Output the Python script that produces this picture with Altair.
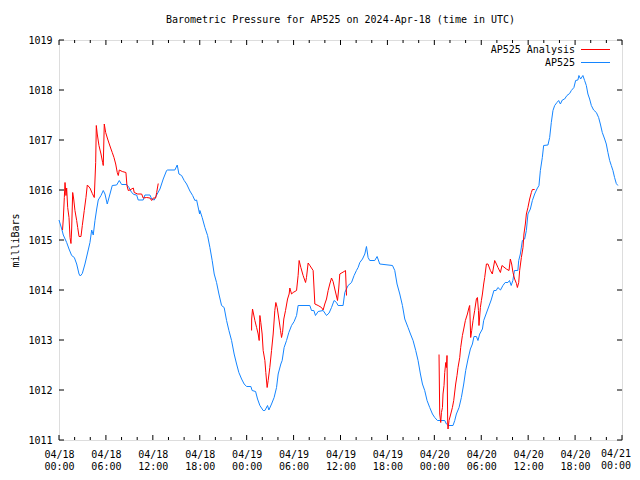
import altair as alt
import pandas as pd

# ---------------- data (hours after 2024-04-18 00:00 UTC, pressure in mbar) ----------------
obs_hours = [0.0, 0.35, 0.55, 0.98, 1.28, 1.62, 1.96, 2.26, 2.56, 2.72, 2.98, 3.32, 3.62, 3.96, 4.18,
             4.38, 4.60, 4.82, 5.02, 5.37, 5.66, 5.88, 6.17, 6.52, 6.81, 7.37, 7.71, 8.01, 8.65, 8.95,
             9.29, 9.58, 9.93, 10.13, 10.77, 10.99, 11.63, 11.85, 12.18, 12.49, 12.91, 13.33, 13.76,
             13.89, 14.82, 15.12, 15.34, 15.68, 16.01, 16.32, 16.74, 17.09, 17.38, 17.60, 17.98,
             18.02, 18.31, 18.66, 19.00, 19.30, 19.59, 19.85, 20.15, 20.45, 20.79, 21.12, 21.43,
             21.73, 22.07, 22.40, 22.71, 23.00, 23.35, 23.68, 23.99, 24.54, 24.70, 25.14, 25.39,
             25.69, 26.11, 26.33, 26.67, 26.84, 27.18, 27.51, 27.82, 28.03, 28.37, 28.54, 28.79,
             29.10, 29.39, 29.74, 30.07, 30.38, 30.58, 32.08, 32.29, 32.59, 32.80, 33.14, 33.78,
             34.21, 34.54, 34.85, 35.18, 35.49, 35.69, 36.33, 36.55, 36.97, 37.41, 37.74, 38.04,
             38.25, 38.47, 38.81, 39.11, 39.32, 39.53, 39.74, 40.38, 40.68, 41.02, 42.65, 42.94,
             43.23, 43.58, 43.92, 44.22, 44.64, 44.95, 45.28, 45.62, 45.92, 46.22, 46.48, 46.77,
             47.07, 47.41, 47.76, 48.05, 48.40, 49.33, 49.55, 49.75, 50.39, 50.61, 50.82, 51.16,
             51.46, 51.76, 52.01, 52.31, 52.61, 52.87, 53.07, 53.38, 53.58, 53.80, 54.15, 54.31,
             55.27, 55.62, 55.91, 56.13, 56.46, 56.77, 57.06, 57.41, 57.61, 57.83, 58.04, 58.25,
             58.68, 58.79, 59.00, 59.26, 59.55, 59.77, 59.97, 60.28, 60.54, 60.83, 61.12, 61.38,
             61.56, 61.81, 61.98, 62.53, 62.75, 62.96, 63.17, 63.39, 63.68, 63.90, 64.12, 64.37,
             64.66, 64.96, 65.30, 65.52, 65.85, 66.07, 66.36, 66.49, 66.71, 67.00, 67.22, 67.44,
             67.64, 67.86, 68.08, 68.37, 68.72, 69.01, 69.23, 69.48, 69.78, 69.99, 70.20, 70.42,
             70.63, 70.84, 71.05, 71.27, 71.47]
obs_mb = [1015.4, 1015.22, 1015.1, 1014.95, 1014.82, 1014.69, 1014.65, 1014.52, 1014.32, 1014.28,
          1014.33, 1014.52, 1014.72, 1014.95, 1015.2, 1015.1, 1015.39, 1015.62, 1015.8, 1015.89,
          1015.99, 1015.92, 1015.72, 1015.92, 1016.09, 1016.1, 1016.19, 1016.11, 1016.11, 1016.05,
          1015.95, 1015.91, 1015.9, 1015.8, 1015.8, 1015.9, 1015.9, 1015.82, 1015.8, 1015.9,
          1016.02, 1016.22, 1016.39, 1016.4, 1016.4, 1016.5, 1016.32, 1016.29, 1016.19, 1016.12,
          1015.98, 1015.89, 1015.79, 1015.8, 1015.52, 1015.59, 1015.45, 1015.25, 1015.09, 1014.85,
          1014.59, 1014.32, 1014.15, 1013.92, 1013.69, 1013.65, 1013.39, 1013.19, 1012.99, 1012.72,
          1012.52, 1012.35, 1012.22, 1012.12, 1012.07, 1012.07, 1011.99, 1011.97, 1011.82, 1011.69,
          1011.59, 1011.59, 1011.69, 1011.6, 1011.72, 1011.85, 1012.05, 1012.32, 1012.52, 1012.59,
          1012.85, 1012.99, 1013.15, 1013.29, 1013.37, 1013.49, 1013.69, 1013.69, 1013.59, 1013.59,
          1013.49, 1013.57, 1013.59, 1013.49, 1013.54, 1013.65, 1013.79, 1013.75, 1013.69, 1013.69,
          1013.95, 1014.09, 1014.15, 1014.29, 1014.39, 1014.45, 1014.55, 1014.62, 1014.72, 1014.87,
          1014.65, 1014.59, 1014.59, 1014.67, 1014.52, 1014.49, 1014.39, 1014.12, 1013.92, 1013.69,
          1013.42, 1013.25, 1013.12, 1012.99, 1012.79, 1012.59, 1012.32, 1012.12, 1011.99, 1011.79,
          1011.65, 1011.52, 1011.45, 1011.39, 1011.39, 1011.32, 1011.29, 1011.29, 1011.39, 1011.52,
          1011.65, 1011.85, 1012.12, 1012.39, 1012.62, 1012.82, 1012.92, 1013.07, 1013.07, 1012.99,
          1013.12, 1013.22, 1013.39, 1013.8, 1013.99, 1013.99, 1014.05, 1014.0, 1014.09, 1014.15,
          1014.15, 1014.19, 1014.09, 1014.19, 1014.39, 1014.39, 1014.59, 1014.72, 1014.99, 1015.02,
          1015.19, 1015.52, 1015.62, 1015.79, 1015.92, 1016.02, 1016.09, 1016.39, 1016.65, 1016.89,
          1016.9, 1017.05, 1017.35, 1017.59, 1017.69, 1017.75, 1017.79, 1017.72, 1017.8, 1017.82,
          1017.89, 1017.93, 1017.99, 1018.05, 1018.19, 1018.2, 1018.29, 1018.22, 1018.29, 1018.19,
          1018.09, 1017.92, 1017.82, 1017.69, 1017.6, 1017.55, 1017.45, 1017.32, 1017.15, 1017.02,
          1016.92, 1016.75, 1016.59, 1016.49, 1016.39, 1016.25, 1016.13, 1016.09]

ana1_hours = [0.45, 0.55, 0.68, 0.77, 0.89, 0.98, 1.11, 1.28, 1.41, 1.53, 1.62, 1.75, 1.88, 2.04,
              2.26, 2.39, 2.56, 2.81, 2.98, 3.23, 3.45, 3.62, 3.96, 4.26, 4.51, 4.69, 4.77, 4.89,
              5.11, 5.37, 5.58, 5.66, 5.79, 5.97, 6.22, 6.43, 6.65, 6.81, 7.03, 7.25, 7.45, 7.58,
              7.71, 8.09, 8.56, 8.69, 8.86, 9.07, 9.50, 9.62, 10.06, 10.57, 10.77, 11.21, 11.63,
              11.85, 12.05, 12.36, 12.49, 12.69]
ana1_mb = [1015.2, 1015.42, 1015.85, 1016.15, 1015.89, 1016.04, 1015.65, 1015.45, 1015.05, 1014.93,
           1015.22, 1015.95, 1015.82, 1015.59, 1015.39, 1015.25, 1015.07, 1015.07, 1015.29, 1015.59,
           1015.85, 1016.1, 1016.04, 1015.93, 1015.85, 1016.55, 1017.29, 1017.12, 1016.89, 1016.72,
           1016.55, 1016.49, 1017.32, 1017.15, 1017.02, 1016.92, 1016.82, 1016.75, 1016.65, 1016.52,
           1016.35, 1016.29, 1016.4, 1016.37, 1016.35, 1016.09, 1015.99, 1016.0, 1016.04, 1015.95,
           1015.92, 1015.92, 1015.84, 1015.85, 1015.84, 1015.79, 1015.84, 1015.84, 1015.95, 1016.13]

ana2_hours = [24.63, 24.64, 24.75, 24.88, 25.05, 25.27, 25.47, 25.60, 25.69, 25.81, 25.98, 26.11,
              26.33, 26.45, 26.62, 26.75, 26.96, 27.18, 27.39, 27.60, 27.73, 27.90, 28.12, 28.33,
              28.46, 28.59, 28.75, 28.97, 29.23, 29.43, 29.52, 29.74, 29.94, 30.38, 30.58, 30.71,
              30.93, 31.22, 31.53, 31.65, 31.86, 32.08, 32.50, 32.72, 33.14, 33.57, 33.78, 33.99,
              34.21, 34.42, 34.63, 34.85, 35.05, 35.27, 35.62, 35.78, 35.91, 36.46, 36.64, 36.77]
ana2_mb = [1013.19, 1013.42, 1013.62, 1013.52, 1013.39, 1013.25, 1013.12, 1012.99, 1013.49, 1013.35,
           1013.12, 1012.79, 1012.59, 1012.35, 1012.05, 1012.19, 1012.45, 1012.79, 1013.12, 1013.59,
           1013.75, 1013.65, 1013.42, 1013.19, 1013.05, 1013.15, 1013.42, 1013.59, 1013.82, 1013.92,
           1014.04, 1013.92, 1013.95, 1013.99, 1014.29, 1014.59, 1014.45, 1014.29, 1014.15, 1014.25,
           1014.54, 1014.49, 1014.39, 1013.72, 1013.69, 1013.65, 1013.6, 1013.72, 1013.82, 1013.99,
           1014.12, 1014.24, 1014.17, 1014.02, 1013.79, 1014.04, 1014.32, 1014.37, 1014.39, 1013.89]

ana3_hours = [48.60, 48.69, 48.82, 48.91, 49.04, 49.11, 49.24, 49.33, 49.46, 49.55, 49.62, 49.71,
              49.75, 49.88, 50.10, 50.31, 50.48, 50.73, 50.90, 51.03, 51.25, 51.37, 51.59, 51.76,
              51.97, 52.23, 52.43, 52.52, 52.65, 52.78, 52.95, 53.16, 53.38, 53.51, 53.64, 53.71,
              53.89, 54.02, 54.15, 54.31, 54.44, 54.66, 54.86, 55.17, 55.42, 55.72, 55.94, 56.14,
              56.45, 56.65, 57.21, 57.55, 57.72, 57.89, 58.06, 58.27, 58.50, 58.62, 58.79, 58.91,
              59.13, 59.34, 59.46, 59.64, 59.77, 59.97, 60.19, 60.41, 60.54, 60.83]
ana3_mb = [1012.71, 1011.52, 1011.35, 1011.55, 1011.65, 1011.92, 1012.09, 1012.35, 1012.55, 1012.45,
           1012.69, 1011.32, 1011.22, 1011.39, 1011.52, 1011.65, 1011.79, 1012.12, 1012.29, 1012.45,
           1012.65, 1012.85, 1013.09, 1013.22, 1013.39, 1013.52, 1013.65, 1013.69, 1013.05, 1013.19,
           1013.39, 1013.59, 1013.82, 1013.85, 1013.59, 1013.29, 1013.65, 1013.79, 1013.92, 1014.12,
           1014.25, 1014.52, 1014.52, 1014.39, 1014.32, 1014.59, 1014.52, 1014.45, 1014.35, 1014.49,
           1014.42, 1014.39, 1014.62, 1014.52, 1014.35, 1014.22, 1014.13, 1014.05, 1014.15, 1014.39,
           1014.65, 1014.85, 1015.12, 1015.32, 1015.52, 1015.65, 1015.82, 1015.95, 1016.01, 1016.01]

y_ticks = [1011, 1012, 1013, 1014, 1015, 1016, 1017, 1018, 1019]
x_major_hours = [0, 6, 12, 18, 24, 30, 36, 42, 48, 54, 60, 66, 72]
x_minor_hours = [h for h in range(0, 73, 2) if h % 6 != 0]
last_label = ["04/21", "00:00"]

title_text = "Barometric Pressure for AP525 on 2024-Apr-18 (time in UTC)"
legend_labels = ["AP525 Analysis", "AP525"]
colors = ["#ff0000", "#1485ff"]

# ---------------- helpers ----------------
T0 = 1713398400000  # 2024-04-18T00:00:00Z in ms
T_END = T0 + 72 * 3600000
def ms(hours):
    return [T0 + int(round(h * 3600000)) for h in hours]

FONT = "DejaVu Sans Mono"
W, H = 563, 400

df_obs = pd.DataFrame({"time": ms(obs_hours), "p": obs_mb})
df_ana = pd.concat([
    pd.DataFrame({"time": ms(ana1_hours), "p": ana1_mb, "seg": 1}),
    pd.DataFrame({"time": ms(ana2_hours), "p": ana2_mb, "seg": 2}),
    pd.DataFrame({"time": ms(ana3_hours), "p": ana3_mb, "seg": 3}),
])

xscale = alt.Scale(type="utc", domain=[T0, T_END])
yscale = alt.Scale(domain=[1011, 1019], nice=False, zero=False)

xaxis = alt.Axis(
    values=ms(x_major_hours),
    labelExpr=("datum.value >= %d ? '' : "
               "[utcFormat(datum.value, '%%m/%%d'), utcFormat(datum.value, '%%H:%%M')]") % T_END,
    ticks=False, domain=False, grid=False, title=None,
    labelFont=FONT, labelFontSize=10, labelColor="black", labelAngle=0,
    labelPadding=9, labelBaseline="top", labelLineHeight=12,
    labelFlush=False, labelOverlap=False,
)
yaxis = alt.Axis(
    values=y_ticks, format="d",
    ticks=False, domain=False, grid=False,
    title="milliBars", titleFont=FONT, titleFontSize=10, titleFontWeight="normal",
    titleColor="black", titleX=-44, titleY=H / 2, titleAngle=-90,
    titleAlign="center", titleBaseline="middle",
    labelFont=FONT, labelFontSize=10, labelColor="black", labelPadding=7,
)

x_enc = alt.X("time:T", scale=xscale, axis=xaxis)
y_enc = alt.Y("p:Q", scale=yscale, axis=yaxis)

obs_line = alt.Chart(df_obs).mark_line(color=colors[1], strokeWidth=1).encode(x=x_enc, y=y_enc)
ana_line = alt.Chart(df_ana).mark_line(color=colors[0], strokeWidth=1).encode(
    x="time:T", y="p:Q", detail="seg:N")

# inward tick marks on all four sides (gnuplot style)
df_xmaj = pd.DataFrame({"time": ms(x_major_hours)})
df_xmin = pd.DataFrame({"time": ms(x_minor_hours)})
df_y = pd.DataFrame({"p": y_ticks})
tick_style = dict(color="black", strokeWidth=1)
ticks = [
    alt.Chart(df_xmaj).mark_rule(**tick_style).encode(x="time:T", y=alt.value(H), y2=alt.value(H - 5)),
    alt.Chart(df_xmaj).mark_rule(**tick_style).encode(x="time:T", y=alt.value(0), y2=alt.value(5)),
    alt.Chart(df_xmin).mark_rule(**tick_style).encode(x="time:T", y=alt.value(H), y2=alt.value(H - 3)),
    alt.Chart(df_xmin).mark_rule(**tick_style).encode(x="time:T", y=alt.value(0), y2=alt.value(3)),
    alt.Chart(df_y).mark_rule(**tick_style).encode(y="p:Q", x=alt.value(0), x2=alt.value(5)),
    alt.Chart(df_y).mark_rule(**tick_style).encode(y="p:Q", x=alt.value(W), x2=alt.value(W - 5)),
]

one = pd.DataFrame({"a": [0]})

# last x label, kept inside the page edge
end_label = alt.Chart(one).mark_text(text=last_label, align="right", baseline="top", font=FONT,
                                     fontSize=10, color="black", lineHeight=12).encode(
    x=alt.value(W + 9), y=alt.value(H + 9))

# title as a text mark above the plot
title = alt.Chart(one).mark_text(text=title_text, align="center", baseline="middle", font=FONT,
                                 fontSize=10, color="black").encode(
    x=alt.value(W / 2), y=alt.value(-20))

# legend (gnuplot style: text then line sample, top-right inside)
legend = []
for i, (lab, col) in enumerate(zip(legend_labels, colors)):
    yy = 9.5 + i * 13
    legend.append(alt.Chart(one).mark_text(text=lab, align="right", baseline="middle", font=FONT,
                                           fontSize=10, color="black")
                  .encode(x=alt.value(516), y=alt.value(yy)))
    legend.append(alt.Chart(one).mark_rule(color=col, strokeWidth=1)
                  .encode(x=alt.value(522), x2=alt.value(551), y=alt.value(yy)))

chart = alt.layer(obs_line, ana_line, *ticks, end_label, title, *legend).properties(
    width=W, height=H,
    autosize=alt.AutoSizeParams(type="none"),
    padding={"left": 51, "top": 32, "right": 10, "bottom": 32},
).configure_view(stroke="black", strokeWidth=1).configure(background="white")

chart.save("out.html", embed_options={"renderer": "svg", "actions": False})
